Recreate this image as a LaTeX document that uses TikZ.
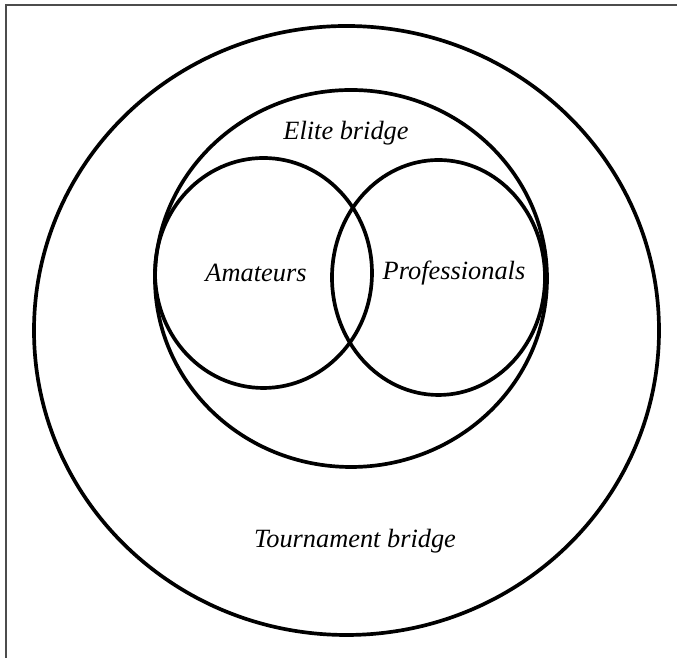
\documentclass[tikz,border=0pt]{standalone}
\usepackage{fontspec}
\setmainfont{Liberation Serif}
\tikzset{
  set/.style={line width=2.1pt},
  setlabel/.style={font=\fontsize{15}{18}\selectfont\itshape, inner sep=1pt},
}
\begin{document}
\begin{tikzpicture}[x=0.02cm, y=0.02cm]
   \useasboundingbox (0,0) rectangle (677,658);
   \draw[black!70, line width=0.8pt] (6,0) -- (6,653) -- (677,653);
   \coordinate (tour) at (346.5,327.5);
   \coordinate (elite) at (351,379.5);
   \coordinate (amat) at (263.5,385);
   \coordinate (prof) at (438.5,380.5);
   \draw[set] (tour) ellipse [x radius=312.5, y radius=304.5];
   \draw[set] (elite) ellipse [x radius=196, y radius=188.5];
   \draw[set] (amat) ellipse [x radius=108.5, y radius=115];
   \draw[set] (prof) ellipse [x radius=106.5, y radius=117.5];
   \node[setlabel] (Le) at (346,525) {Elite bridge};
   \node[setlabel] (La) at (256,385) {Amateurs};
   \node[setlabel] (Lp) at (454,385) {Professionals};
   \node[setlabel] (Lt) at (355,117) {Tournament bridge};
\end{tikzpicture}
\end{document}
